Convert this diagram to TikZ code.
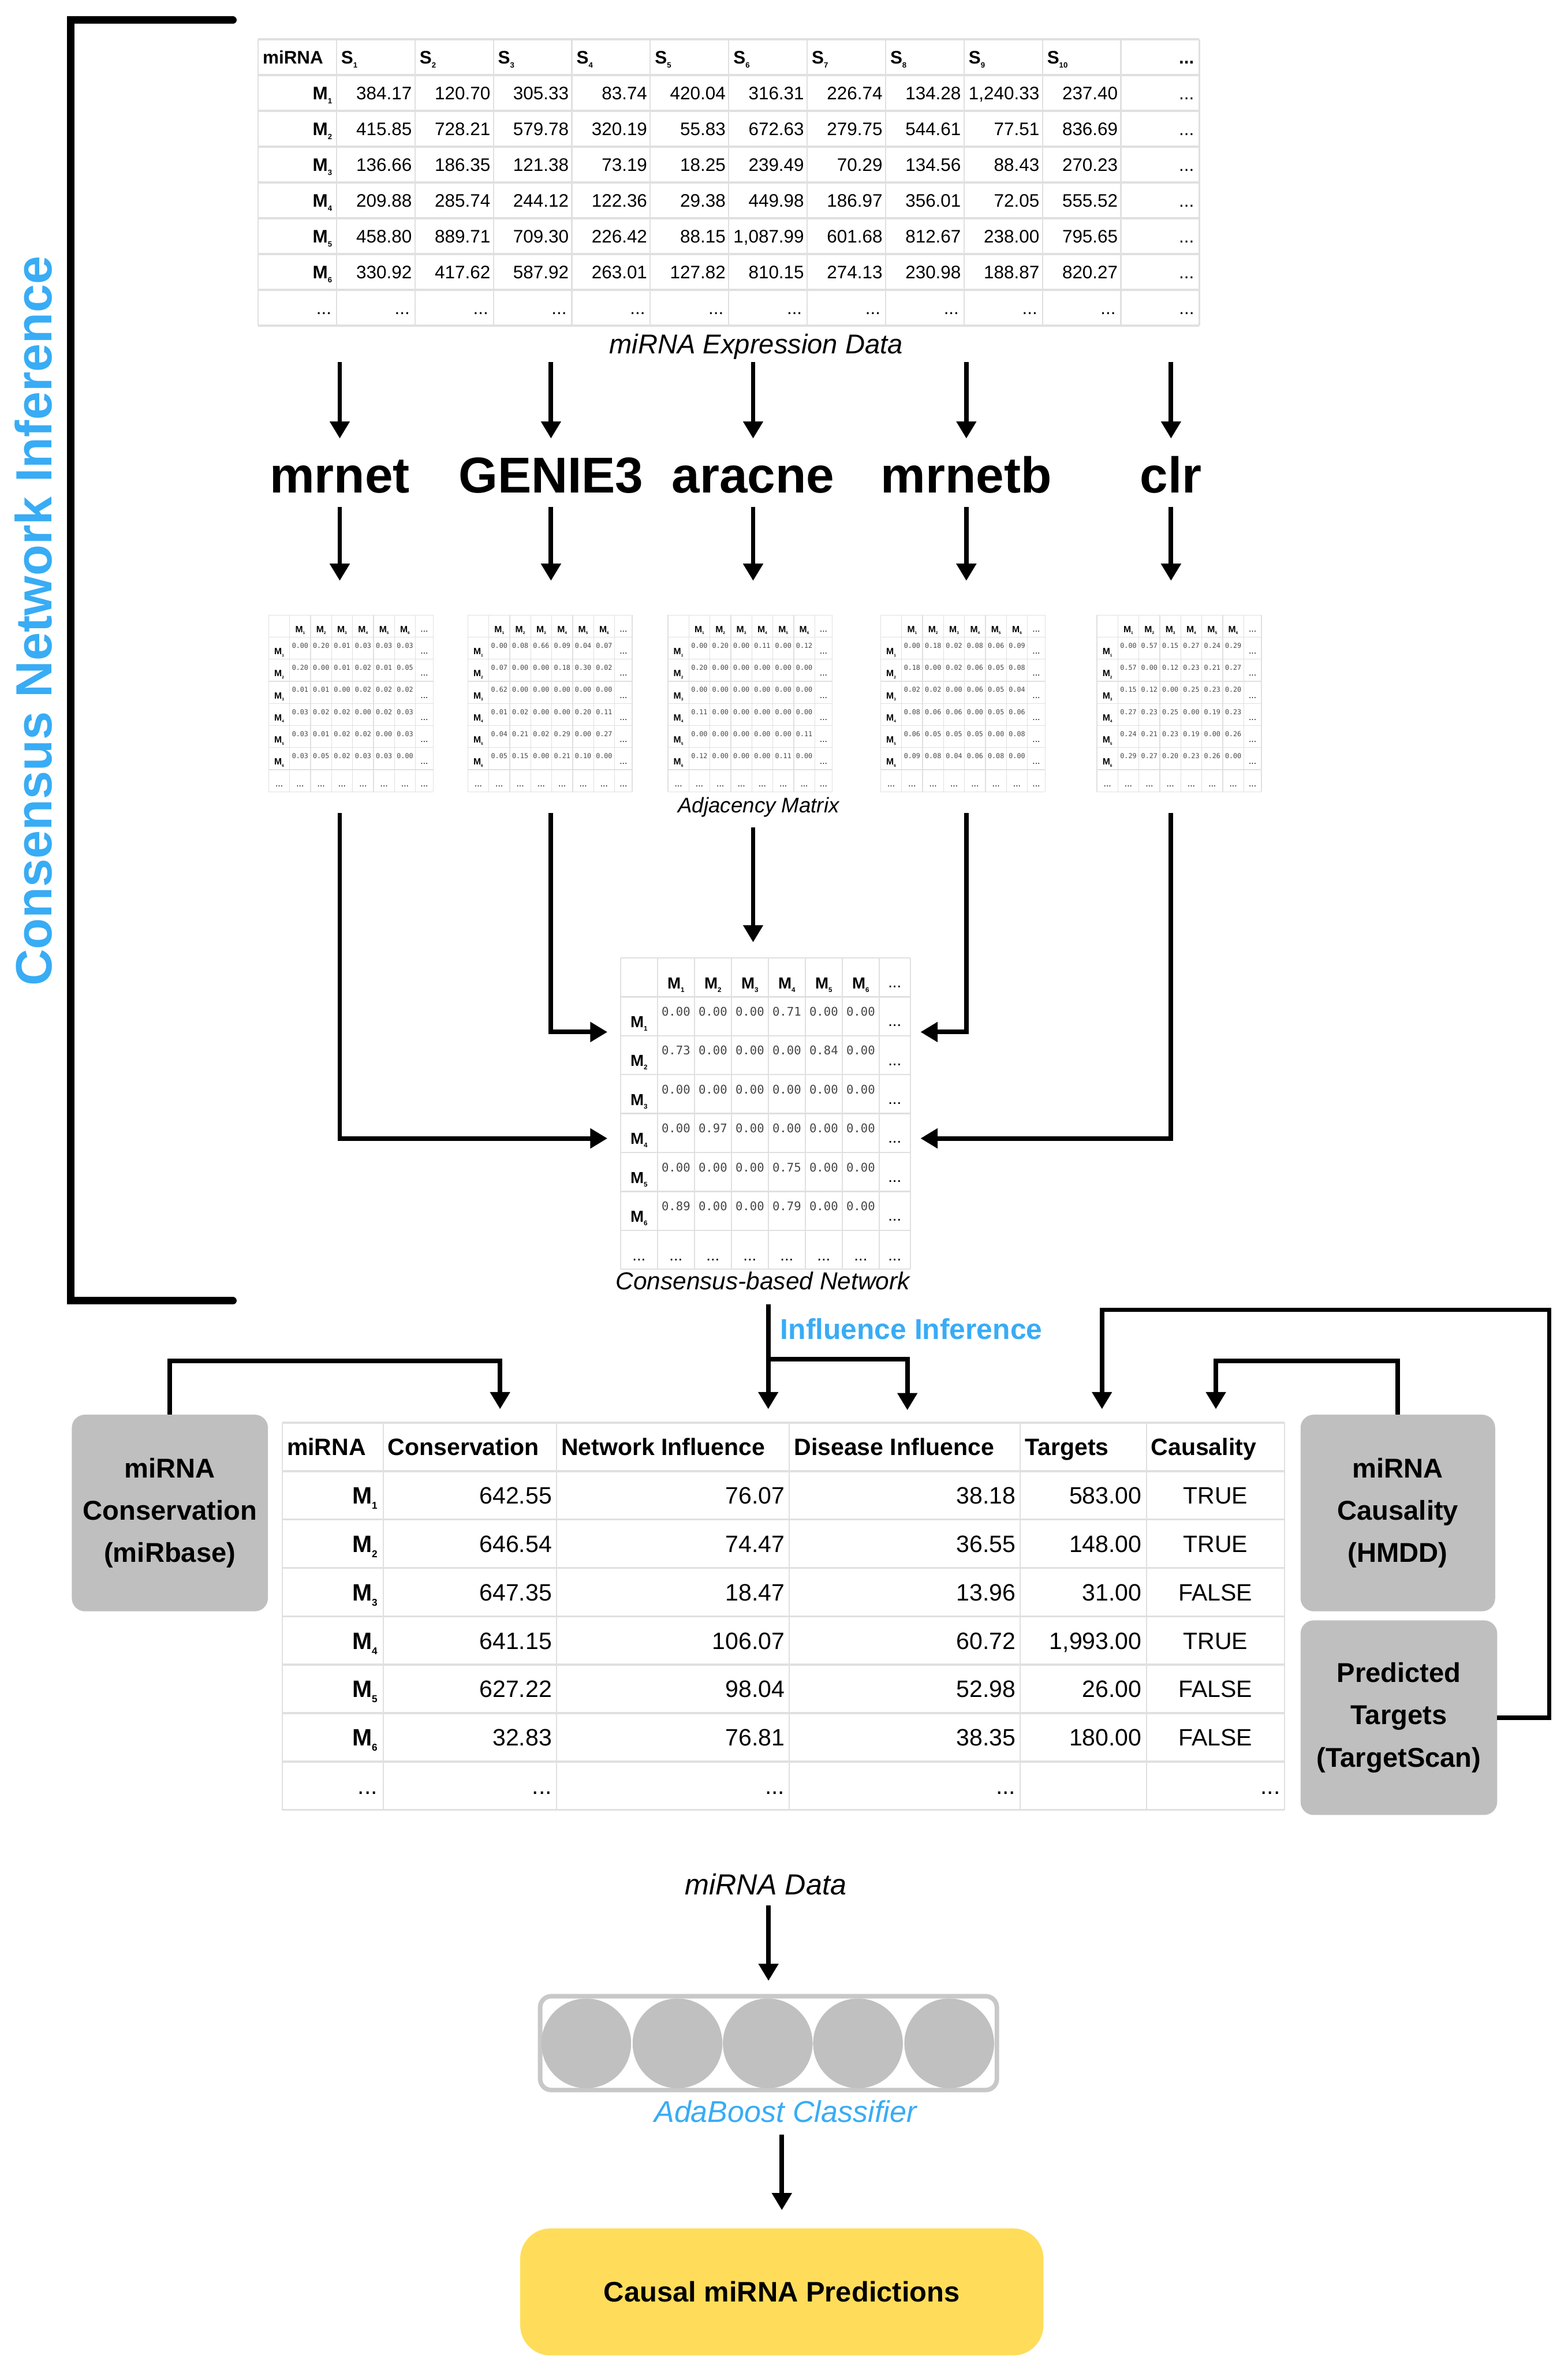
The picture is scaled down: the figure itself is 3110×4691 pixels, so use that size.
\documentclass[tikz,border=0pt]{standalone}
\usepackage{fontspec}
\setmainfont{Liberation Sans}
\setmonofont{DejaVu Sans Mono}
\usepackage{graphicx}
\usetikzlibrary{arrows.meta,calc}
\definecolor{cblue}{RGB}{56,172,245}
\definecolor{boxgray}{RGB}{191,191,191}
\definecolor{gridc}{RGB}{224,224,224}
\definecolor{predy}{RGB}{255,221,90}
\definecolor{valc}{RGB}{70,70,70}
\definecolor{circg}{RGB}{192,192,192}
\definecolor{clfgray}{RGB}{200,200,200}
\newcommand\sbs[1]{\raisebox{-0.22em}{\scalebox{0.42}{#1}}}
\newcommand\adjm[5]{%
  \pgfmathsetmacro\amcw{41.6*#4}%
  \pgfmathsetmacro\amch{43.8*#4}%
  \pgfmathsetmacro\amlw{35*#4}%
  \pgfmathsetmacro\amW{7*\amcw+\amlw}%
  \pgfmathsetmacro\amH{8*\amch}%
  \pgfmathsetmacro\amfv{13.4*#4}%
  \pgfmathsetmacro\amfh{18*#4}%
  \pgfmathsetmacro\amlwd{1.5*#4}%
  \node[inner sep=0,minimum width=\amW pt,minimum height=\amH pt,anchor=north west] (#1) at (#2,#3) {};
  \foreach \ii in {0,...,7} {\draw[draw=gridc,line width=\amlwd pt] ({#2+\ii*\amcw},#3) -- ({#2+\ii*\amcw},{#3+\amH});}
  \draw[draw=gridc,line width=\amlwd pt] ({#2+\amW},#3) -- ({#2+\amW},{#3+\amH});
  \foreach \jj in {0,...,8} {\draw[draw=gridc,line width=\amlwd pt] (#2,{#3+\jj*\amch}) -- ({#2+\amW},{#3+\jj*\amch});}
  \foreach \cc in {1,...,6} {\node[inner sep=0,anchor=base,font=\bfseries\fontsize{\amfh}{\amfh}\selectfont] at ({#2+(\cc+0.5)*\amcw},{#3+0.64*\amch+0.36*\amfh}) {M\sbs{\cc}};}
  \node[inner sep=0,anchor=base,font=\fontsize{\amfh}{\amfh}\selectfont] at ({#2+7*\amcw+0.5*\amlw},{#3+0.76*\amch}) {...};
  \foreach \rowd [count=\rr] in {#5} {
    \node[inner sep=0,anchor=base,font=\bfseries\fontsize{\amfh}{\amfh}\selectfont] at ({#2+0.5*\amcw},{#3+(\rr+0.64)*\amch+0.36*\amfh}) {M\sbs{\rr}};
    \foreach \vv [count=\cc] in \rowd {
      \node[inner sep=0,anchor=base,text=valc,font=\ttfamily\fontsize{\amfv}{\amfv}\selectfont] at ({#2+(\cc+0.5)*\amcw},{#3+(\rr+0.38)*\amch+0.365*\amfv}) {\vv};
    }
    \node[inner sep=0,anchor=base,font=\fontsize{\amfh}{\amfh}\selectfont] at ({#2+7*\amcw+0.5*\amlw},{#3+(\rr+0.76)*\amch}) {...};
  }
  \foreach \cc in {0,...,6} {\node[inner sep=0,anchor=base,font=\fontsize{\amfh}{\amfh}\selectfont] at ({#2+(\cc+0.5)*\amcw},{#3+7.78*\amch}) {...};}
  \node[inner sep=0,anchor=base,font=\fontsize{\amfh}{\amfh}\selectfont] at ({#2+7*\amcw+0.5*\amlw},{#3+7.78*\amch}) {...};
}
\begin{document}
\begin{tikzpicture}[x=1pt,y=-1pt,
  arr/.style={line width=9pt,-{Triangle[width=38pt,length=34pt]}},
  gv/.style={draw=gridc,line width=2.5pt},
  gh/.style={draw=gridc,line width=4pt},
  ehdr/.style={inner sep=0,font=\bfseries\fontsize{36}{36}\selectfont},
  evalue/.style={inner sep=0,font=\fontsize{36}{36}\selectfont},
  fhdr/.style={inner sep=0,font=\bfseries\fontsize{47}{47}\selectfont},
  fval/.style={inner sep=0,font=\fontsize{47}{47}\selectfont},
  meth/.style={inner sep=0,anchor=base,text height=75pt,text depth=0pt,font=\bfseries\fontsize{100}{100}\selectfont},
  sidebox/.style={fill=boxgray,rounded corners=26pt,inner sep=0,align=center,font=\bfseries\fontsize{54}{84}\selectfont},
]
\useasboundingbox (0,0) rectangle (3110,4691);
\fill[white] (0,0) rectangle (3110,4691);

% bracket and side title
\draw[line width=15pt,line cap=round,line join=miter] (462,40) -- (140,40) -- (140,2580) -- (462,2580);
\node[rotate=90,inner sep=0,text=cblue,font=\bfseries\fontsize{101}{101}\selectfont] (cni) at (66,1232) {Consensus Network Inference};

% expression table
\node[inner sep=0,minimum width=1867pt,minimum height=568pt,anchor=north west] (expr) at (512,78) {};
\foreach \ii in {0,...,12} {\draw[gv] ({512+\ii*155.6},78) -- ({512+\ii*155.6},646);}
\foreach \jj in {0,...,8} {\draw[gh] (512,{78+\jj*71}) -- (2379,{78+\jj*71});}
\node[ehdr,anchor=base west] at (521,126.5) {miRNA};
\foreach \ii in {1,...,10} {\node[ehdr,anchor=base west] at ({512+\ii*155.6+9},126.5) {S\sbs{\ii}};}
\node[ehdr,anchor=base east] at (2369,126.5) {...};
\foreach \rowd [count=\rr] in {
 {384.17,120.70,305.33,83.74,420.04,316.31,226.74,134.28,{1,240.33},237.40},
 {415.85,728.21,579.78,320.19,55.83,672.63,279.75,544.61,77.51,836.69},
 {136.66,186.35,121.38,73.19,18.25,239.49,70.29,134.56,88.43,270.23},
 {209.88,285.74,244.12,122.36,29.38,449.98,186.97,356.01,72.05,555.52},
 {458.80,889.71,709.30,226.42,88.15,{1,087.99},601.68,812.67,238.00,795.65},
 {330.92,417.62,587.92,263.01,127.82,810.15,274.13,230.98,188.87,820.27}} {
  \node[ehdr,anchor=base east] at (659,{78+\rr*71+48.5}) {M\sbs{\rr}};
  \foreach \vv [count=\cc] in \rowd {\node[evalue,anchor=base east] at ({512+(\cc+1)*155.6-6},{78+\rr*71+48.5}) {\vv};}
  \node[evalue,anchor=base east] at (2369,{78+\rr*71+48.5}) {...};
}
\foreach \ii in {0,...,11} {\node[evalue,anchor=base east] at ({512+(\ii+1)*155.6-10},623.5) {...};}
\node[inner sep=0,anchor=base,font=\itshape\fontsize{54}{54}\selectfont] (exprcap) at (1500,701) {miRNA Expression Data};

% methods
\node[meth] (m1) at (674,978) {mrnet};
\node[meth] (m2) at (1093,978) {GENIE3};
\node[meth] (m3) at (1494,978) {aracne};
\node[meth] (m4) at (1917,978) {mrnetb};
\node[meth] (m5) at (2323,978) {clr};

% adjacency matrices
\adjm{a1}{533}{1220}{1}{{0.00,0.20,0.01,0.03,0.03,0.03},{0.20,0.00,0.01,0.02,0.01,0.05},{0.01,0.01,0.00,0.02,0.02,0.02},{0.03,0.02,0.02,0.00,0.02,0.03},{0.03,0.01,0.02,0.02,0.00,0.03},{0.03,0.05,0.02,0.03,0.03,0.00}}
\adjm{a2}{928}{1220}{1}{{0.00,0.08,0.66,0.09,0.04,0.07},{0.07,0.00,0.00,0.18,0.30,0.02},{0.62,0.00,0.00,0.00,0.00,0.00},{0.01,0.02,0.00,0.00,0.20,0.11},{0.04,0.21,0.02,0.29,0.00,0.27},{0.05,0.15,0.00,0.21,0.10,0.00}}
\adjm{a3}{1325}{1220}{1}{{0.00,0.20,0.00,0.11,0.00,0.12},{0.20,0.00,0.00,0.00,0.00,0.00},{0.00,0.00,0.00,0.00,0.00,0.00},{0.11,0.00,0.00,0.00,0.00,0.00},{0.00,0.00,0.00,0.00,0.00,0.11},{0.12,0.00,0.00,0.00,0.11,0.00}}
\adjm{a4}{1747}{1220}{1}{{0.00,0.18,0.02,0.08,0.06,0.09},{0.18,0.00,0.02,0.06,0.05,0.08},{0.02,0.02,0.00,0.06,0.05,0.04},{0.08,0.06,0.06,0.00,0.05,0.06},{0.06,0.05,0.05,0.05,0.00,0.08},{0.09,0.08,0.04,0.06,0.08,0.00}}
\adjm{a5}{2176}{1220}{1}{{0.00,0.57,0.15,0.27,0.24,0.29},{0.57,0.00,0.12,0.23,0.21,0.27},{0.15,0.12,0.00,0.25,0.23,0.20},{0.27,0.23,0.25,0.00,0.19,0.23},{0.24,0.21,0.23,0.19,0.00,0.26},{0.29,0.27,0.20,0.23,0.26,0.00}}
\node[inner sep=0,anchor=base,font=\itshape\fontsize{42}{42}\selectfont] (adjcap) at (1505,1612) {Adjacency Matrix};

% consensus matrix
\adjm{cons}{1231}{1900}{1.762}{{0.00,0.00,0.00,0.71,0.00,0.00},{0.73,0.00,0.00,0.00,0.84,0.00},{0.00,0.00,0.00,0.00,0.00,0.00},{0.00,0.97,0.00,0.00,0.00,0.00},{0.00,0.00,0.00,0.75,0.00,0.00},{0.89,0.00,0.00,0.79,0.00,0.00}}
\node[inner sep=0,anchor=base,font=\itshape\fontsize{48.6}{48.6}\selectfont] (conscap) at (1513,2558) {Consensus-based Network};

% arrows: table -> methods -> matrices
\foreach \k in {1,...,5} {
  \draw[arr,shorten <=72pt,shorten >=33pt] (expr.south -| m\k) -- (m\k.north);
  \draw[arr,shorten <=27pt,shorten >=68pt] (m\k.south) -- (m\k |- a\k.north);
}
% matrices -> consensus
\coordinate (cinL1) at (1205,2047);
\coordinate (cinL4) at (1205,2258);
\coordinate (cinR1) at (1826,2047);
\coordinate (cinR4) at (1826,2258);
\draw[arr,shorten <=70pt,shorten >=31pt] (m3 |- a3.south) -- (m3 |- cons.north);
\draw[arr,shorten <=42pt] (m2 |- a2.south) |- (cinL1);
\draw[arr,shorten <=42pt] (m1 |- a1.south) |- (cinL4);
\draw[arr,shorten <=42pt] (m4 |- a4.south) |- (cinR1);
\draw[arr,shorten <=42pt] (m5 |- a5.south) |- (cinR4);

% feature table
\node[inner sep=0,minimum width=1988pt,minimum height=768pt,anchor=north west] (feat) at (560,2822) {};
\foreach \xx in {560,760,1104,1566,2024,2274,2548} {\draw[gv] (\xx,2822) -- (\xx,3590);}
\foreach \jj in {0,...,8} {\draw[gh] (560,{2822+\jj*96}) -- (2548,{2822+\jj*96});}
\foreach \lab/\xx in {miRNA/569,Conservation/769,Network Influence/1113,Disease Influence/1575,Targets/2033,Causality/2283} {\node[fhdr,anchor=base west] at (\xx,2887) {\lab};}
\foreach \rowd [count=\rr] in {{642.55,76.07,38.18,583.00,TRUE},{646.54,74.47,36.55,148.00,TRUE},{647.35,18.47,13.96,31.00,FALSE},{641.15,106.07,60.72,{1,993.00},TRUE},{627.22,98.04,52.98,26.00,FALSE},{32.83,76.81,38.35,180.00,FALSE}} {
  \pgfmathsetmacro\yy{2822+\rr*96+65}
  \node[fhdr,anchor=base east] at (749,\yy) {M\sbs{\rr}};
  \foreach \vv [count=\cc] in \rowd {
    \ifnum\cc<5
      \pgfmathsetmacro\xx{{1095,1557,2015,2265}[\cc-1]}
      \node[fval,anchor=base east] at (\xx,\yy) {\vv};
    \else
      \node[fval,anchor=base] at (2411,\yy) {\vv};
    \fi
  }
}
\foreach \xx in {749,1095,1557,2015,2540} {\node[fval,anchor=base east] at (\xx,3559) {...};}

% side boxes
\node[sidebox,minimum width=389pt,minimum height=390pt] (mirbase) at (337,3001) {miRNA\\Conservation\\(miRbase)};
\node[sidebox,minimum width=386pt,minimum height=390pt] (hmdd) at (2773,3001) {miRNA\\Causality\\(HMDD)};
\node[sidebox,minimum width=390pt,minimum height=386pt] (tscan) at (2775,3407) {Predicted\\Targets\\(TargetScan)};

% influence inference connectors
\node[inner sep=0,anchor=base west,text=cblue,font=\bfseries\fontsize{57}{57}\selectfont] (infl) at (1548,2656) {Influence Inference};
\coordinate (cdown) at (1524,2587);
\coordinate (brk) at (1524,2696);
\coordinate (tipDI) at (1800,2797);
\coordinate (tipC) at (992,2795);
\coordinate (tipCa) at (2412,2795);
\coordinate (tipT) at (2186,2795);
\coordinate (tcorner) at (2186,2598);
\draw[arr,shorten >=27pt] (cdown) -- (cdown |- feat.north);
\draw[arr] (brk) -| (tipDI);
\draw[arr] (mirbase.north) -- ++(0,-106) -| (tipC);
\draw[arr] (hmdd.north) -- ++(0,-106) -| (tipCa);
\draw[arr] (tscan.east) -- ++(103,0) |- (tcorner) -- (tipT);

% classifier
\node[inner sep=0,anchor=base,font=\itshape\fontsize{57.6}{57.6}\selectfont] (mdata) at (1519,3758) {miRNA Data};
\node[draw=clfgray,line width=9pt,rounded corners=22pt,minimum width=906pt,minimum height=186pt,inner sep=0] (clf) at (1524.5,4052.5) {};
\foreach \xx [count=\k] in {1163,1344,1523,1702,1883} {\node[circle,fill=circg,minimum size=178pt,inner sep=0] (c\k) at (\xx,4053) {};}
\node[inner sep=0,anchor=base,text=cblue,font=\itshape\fontsize{59.6}{59.6}\selectfont] (ada) at (1558,4209) {AdaBoost Classifier};
\node[fill=predy,rounded corners=60pt,minimum width=1038pt,minimum height=252pt,inner sep=0,font=\bfseries\fontsize{56}{56}\selectfont] (pred) at (1551,4546) {Causal miRNA Predictions};
\draw[arr,shorten <=21pt,shorten >=26pt] (mdata.base -| clf.north) -- (clf.north);
\draw[arr,shorten <=25pt,shorten >=36pt] (ada.base -| pred.north) -- (pred.north);
\end{tikzpicture}
\end{document}
